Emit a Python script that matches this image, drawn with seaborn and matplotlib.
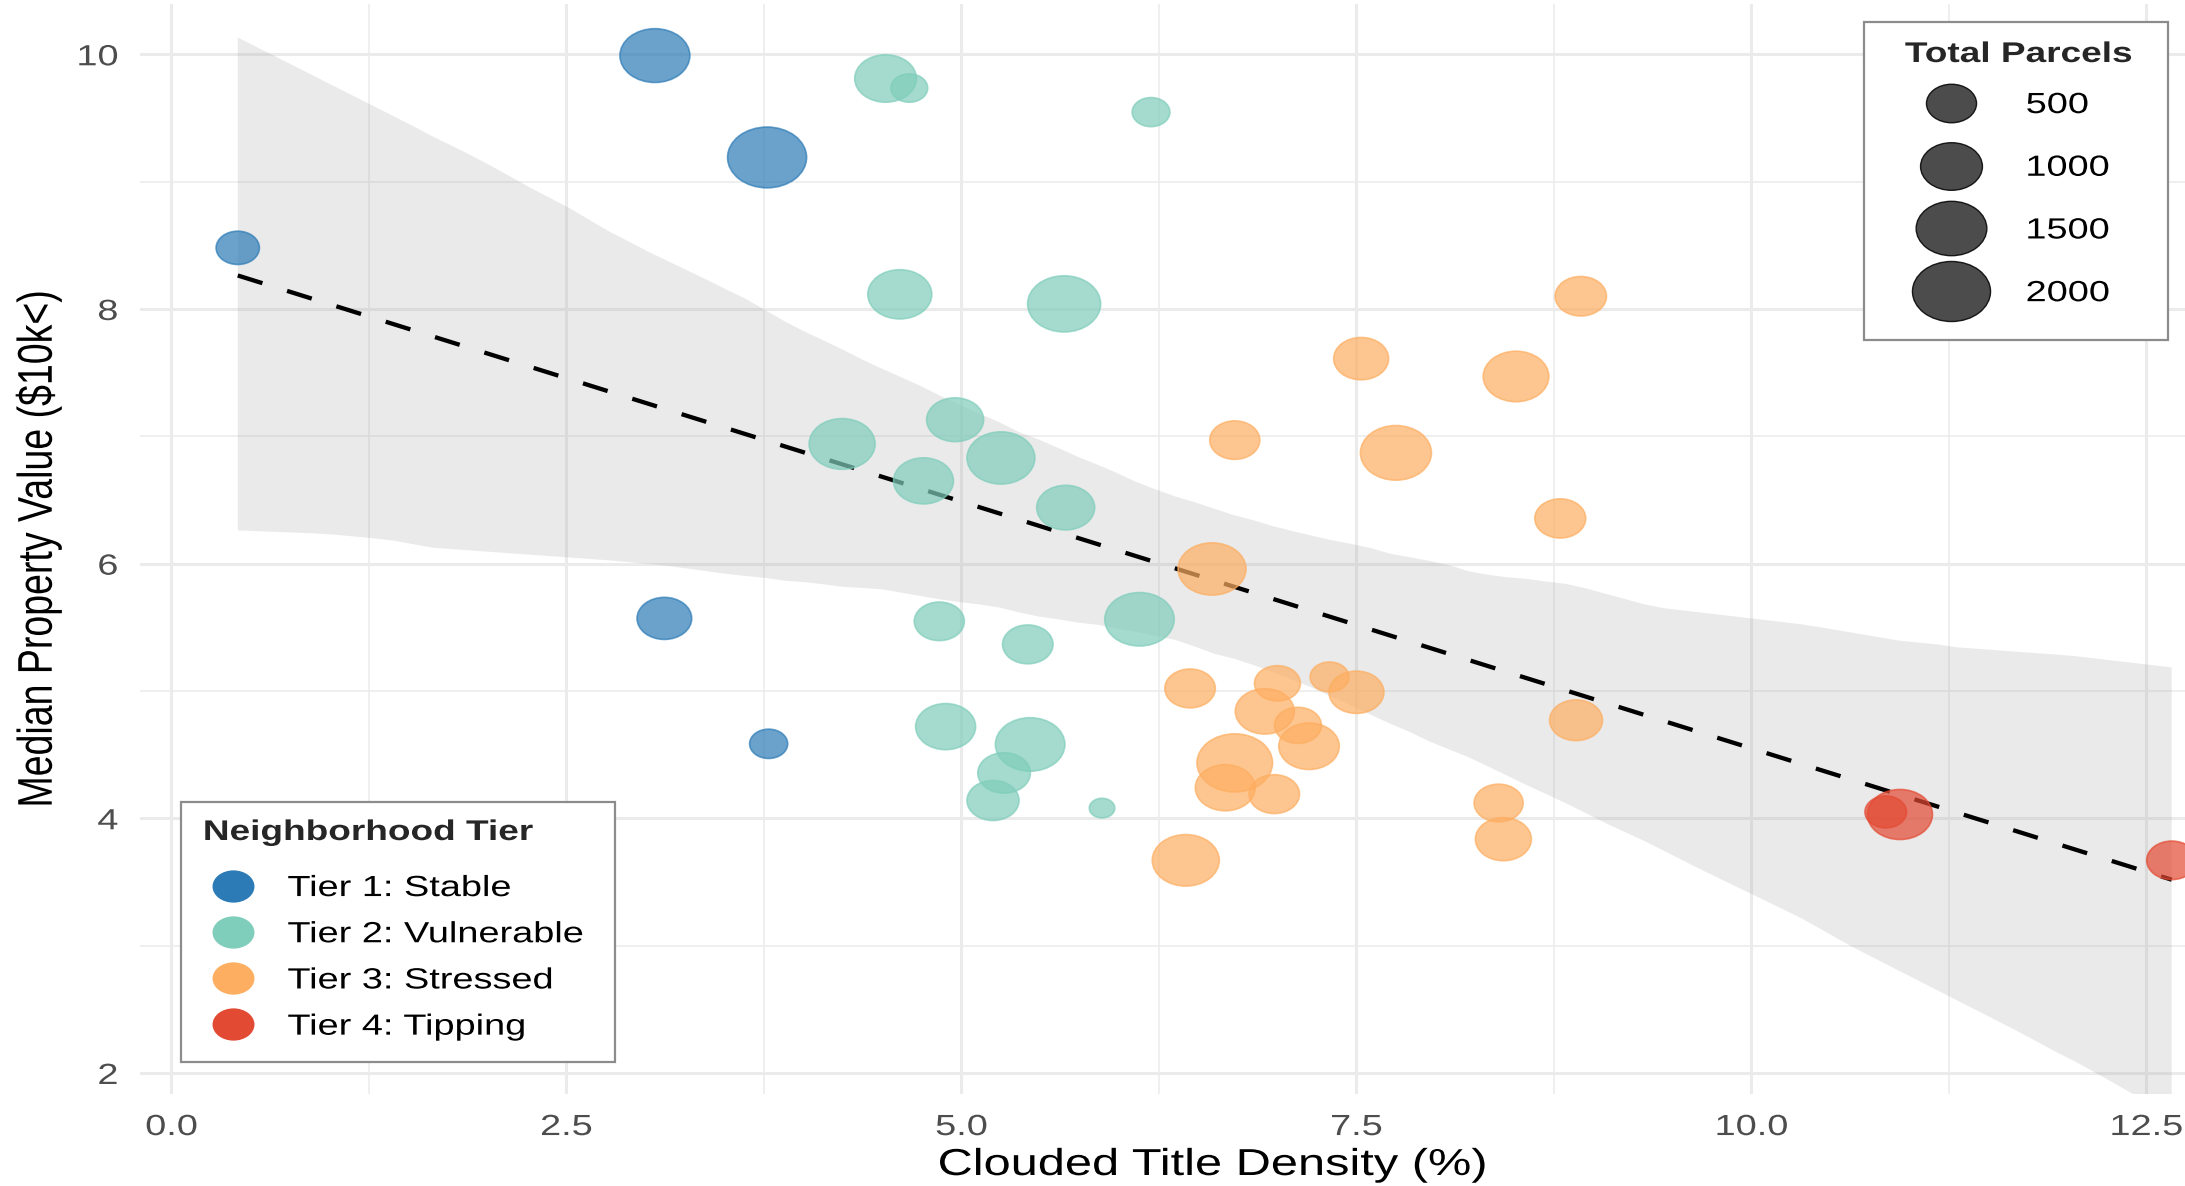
import numpy as np
import pandas as pd
import matplotlib
matplotlib.use("Agg")
import matplotlib.pyplot as plt
import seaborn as sns
from matplotlib.path import Path
from matplotlib.transforms import Affine2D
from matplotlib.patheffects import AbstractPathEffect
from matplotlib.lines import Line2D
from matplotlib.patches import Rectangle
from matplotlib.colors import FuncNorm
from matplotlib.font_manager import FontProperties

# ---------------- data ----------------
tier_names = ["Tier 1: Stable", "Tier 2: Vulnerable", "Tier 3: Stressed", "Tier 4: Tipping"]
tier_colors = ["#2c7bb6", "#7fcdbb", "#fdae61", "#e34a33"]

stable_density = [3.06, 3.77, 0.42, 3.12, 3.78]
stable_value = [9.99, 9.19, 8.48, 5.57, 4.585]
stable_parcels = [1450, 2070, 300, 670, 190]

vulnerable_density = [4.52, 4.67, 6.20, 4.61, 5.65, 4.96, 4.245, 5.25, 4.76, 5.66,
                      6.127, 5.42, 4.86, 5.89, 4.90, 5.435, 5.27, 5.20]
vulnerable_value = [9.81, 9.735, 9.546, 8.115, 8.04, 7.13, 6.94, 6.83, 6.65, 6.44,
                    5.563, 5.366, 5.547, 4.08, 4.72, 4.58, 4.356, 4.14]
vulnerable_parcels = [990, 170, 185, 1110, 1650, 770, 1220, 1330, 905, 815,
                      1425, 515, 500, 80, 905, 1425, 590, 570]

stressed_density = [8.92, 7.53, 8.51, 6.73, 7.75, 8.79, 6.586, 6.447, 7.00, 7.33, 7.50,
                    6.92, 7.13, 7.20, 8.89, 6.73, 6.67, 6.98, 8.40, 8.43, 6.42]
stressed_value = [8.10, 7.61, 7.47, 6.97, 6.87, 6.355, 5.958, 5.02, 5.06, 5.11, 4.99,
                  4.84, 4.73, 4.566, 4.77, 4.435, 4.24, 4.19, 4.12, 3.836, 3.67]
stressed_parcels = [545, 685, 1200, 500, 1520, 530, 1335, 515, 370, 205, 685,
                    860, 400, 930, 605, 1825, 905, 515, 465, 725, 1275]

tipping_density = [10.94, 10.85, 12.66]
tipping_value = [4.03, 4.05, 3.67]
tipping_parcels = [1165, 260, 500]

size_legend_values = [500, 1000, 1500, 2000]
x_ticks = [0.0, 2.5, 5.0, 7.5, 10.0, 12.5]
x_tick_labels = ["0.0", "2.5", "5.0", "7.5", "10.0", "12.5"]
y_ticks = [2, 4, 6, 8, 10]
y_tick_labels = ["2", "4", "6", "8", "10"]

x_title = "Clouded Title Density (%)"
y_title = "Median Property Value ($10k<)"
hue_title = "Neighborhood Tier"
size_title = "Total Parcels"

frames = []
for name, d, v, p in [
    (tier_names[0], stable_density, stable_value, stable_parcels),
    (tier_names[1], vulnerable_density, vulnerable_value, vulnerable_parcels),
    (tier_names[2], stressed_density, stressed_value, stressed_parcels),
    (tier_names[3], tipping_density, tipping_value, tipping_parcels),
]:
    frames.append(pd.DataFrame({"tier": name, "density": d, "value": v, "parcels": p}))
df = pd.concat(frames, ignore_index=True)

# ---------------- style helpers ----------------
W, H, DPI = 2185, 1186, 100
STRETCH = 1.3


class HStretch(AbstractPathEffect):
    """Widen glyphs horizontally (the reference image is horizontally stretched)."""

    def __init__(self, sx=STRETCH, anchor="center"):
        super().__init__()
        self.sx = sx
        self.anchor = anchor

    def draw_path(self, renderer, gc, tpath, affine, rgbFace=None):
        ext = tpath.get_extents(affine)
        if self.anchor == "left":
            cx = ext.x0
        elif self.anchor == "right":
            cx = ext.x1
        else:
            cx = 0.5 * (ext.x0 + ext.x1)
        aff = affine + Affine2D().translate(-cx, 0).scale(self.sx, 1.0).translate(cx, 0)
        renderer.draw_path(gc, tpath, aff, rgbFace)


ELLIPSE = Path.unit_circle().transformed(Affine2D().scale(1.0, 1.0 / STRETCH))

# size scale: marker width (px) = D_MIN + K*sqrt(v - V_MIN)
D_MIN, K_SZ = 25.5, 1.2
V_MIN, V_MAX = float(df["parcels"].min()), float(df["parcels"].max())


def _diam(v):
    v = np.asarray(v, dtype=float)
    return D_MIN + K_SZ * np.sqrt(np.clip(v - V_MIN, 0, None))


def _fwd(v):
    return _diam(v) ** 2


def _inv(a):
    a = np.asarray(a, dtype=float)
    return ((np.sqrt(a) - D_MIN) / K_SZ) ** 2 + V_MIN


PT = 72.0 / DPI
s_min = (PT * float(_diam(V_MIN))) ** 2
s_max = (PT * float(_diam(V_MAX))) ** 2
size_norm = FuncNorm((_fwd, _inv), vmin=V_MIN, vmax=V_MAX)

sns.set_theme(style="white")
plt.rcParams["font.family"] = ["Liberation Sans", "DejaVu Sans"]

fig = plt.figure(figsize=(W / DPI, H / DPI), dpi=DPI)
fig.patch.set_facecolor("white")
ax = fig.add_axes([140 / W, (H - 1093.6) / H, 2045 / W, (1093.6 - 4) / H])

# confidence band of the linear fit, then the dashed trend line
sns.regplot(data=df, x="density", y="value", scatter=False, ci=99,
            n_boot=2000, seed=3, truncate=True, color="0.6", ax=ax)
band = ax.collections[-1]
band.set_alpha(0.2)
band.set_edgecolor("none")
ax.lines[-1].remove()

sns.regplot(data=df, x="density", y="value", scatter=False, ci=None, truncate=True,
            color="black", line_kws=dict(lw=3.1, ls=(0, (6, 6)), zorder=2), ax=ax)

sns.scatterplot(data=df, x="density", y="value", hue="tier", hue_order=tier_names,
                palette=dict(zip(tier_names, tier_colors)), size="parcels",
                sizes=(s_min, s_max), size_norm=size_norm, marker=ELLIPSE,
                alpha=0.7, edgecolor="face", linewidth=1.2, legend=False,
                zorder=3, ax=ax)

# axes cosmetics
ax.set_xlim(-0.1987, 12.744)
ax.set_ylim(1.838, 10.395)
ax.set_xticks(x_ticks, x_tick_labels)
ax.set_yticks(y_ticks, y_tick_labels)
ax.set_xticks([1.25, 3.75, 6.25, 8.75, 11.25], minor=True)
ax.set_yticks([3, 5, 7, 9], minor=True)
ax.set_axisbelow(True)
ax.grid(which="major", color="#ebebeb", lw=2.2)
ax.grid(which="minor", color="#ebebeb", lw=1.1)
for sp in ax.spines.values():
    sp.set_visible(False)
ax.tick_params(which="both", length=0)
ax.tick_params(axis="x", pad=14, labelsize=21, labelcolor="#4d4d4d")
ax.tick_params(axis="y", pad=15.8, labelsize=21, labelcolor="#4d4d4d")
for t in ax.get_xticklabels():
    t.set_path_effects([HStretch(anchor="center")])
for t in ax.get_yticklabels():
    t.set_path_effects([HStretch(anchor="right")])

ax.set_xlabel(x_title, fontsize=27, color="black")
ax.set_ylabel(y_title, fontsize=27, color="black")
ax.xaxis.set_label_coords((1212.7 - 140) / 2045, -(1165 - 1093.6) / 1089.6)
ax.xaxis.label.set_va("center")
ax.yaxis.set_label_coords((38 - 140) / 2045, 0.5)
ax.yaxis.label.set_va("center")
ax.xaxis.label.set_path_effects([HStretch(anchor="center")])
ax.yaxis.label.set_path_effects([HStretch(anchor="center")])

# legend frames
for (x0, y0, x1, y1) in [(181, 801.5, 614.5, 1062), (1864, 21.7, 2168, 340)]:
    fig.add_artist(Rectangle((x0 / W, 1 - y1 / H), (x1 - x0) / W, (y1 - y0) / H,
                             transform=fig.transFigure, facecolor="white",
                             edgecolor="#8c8c8c", lw=1.6, zorder=1))

title_fp = FontProperties(family=["Liberation Sans", "DejaVu Sans"], weight="bold", size=20.5)
label_fp = FontProperties(family=["Liberation Sans", "DejaVu Sans"], size=21)

hue_handles = [Line2D([], [], ls="none", marker=ELLIPSE, markersize=30.2,
                      markerfacecolor=c, markeredgecolor=c, markeredgewidth=0)
               for c in tier_colors]
leg1 = fig.legend(hue_handles, tier_names, loc="upper left",
                  bbox_to_anchor=(203.4 / W, 1 - 820 / H), bbox_transform=fig.transFigure,
                  frameon=False, borderpad=0, borderaxespad=0, title=hue_title,
                  title_fontproperties=title_fp, prop=label_fp, alignment="left",
                  handlelength=2.03, handletextpad=0.857, labelspacing=0.624,
                  numpoints=1, handleheight=0.7)
leg1._legend_box.sep = 20.2

size_handles = []
for v in size_legend_values:
    s = s_min + float(size_norm(v)) * (s_max - s_min)
    size_handles.append(Line2D([], [], ls="none", marker=ELLIPSE, markersize=np.sqrt(s),
                               markerfacecolor=(0, 0, 0, 0.7),
                               markeredgecolor=(0, 0, 0, 0.85), markeredgewidth=1.0))
leg2 = fig.legend(size_handles, [str(v) for v in size_legend_values], loc="upper left",
                  bbox_to_anchor=(1905 / W, 1 - 42 / H), bbox_transform=fig.transFigure,
                  frameon=False, borderpad=0, borderaxespad=0, title=size_title,
                  title_fontproperties=title_fp, prop=label_fp, alignment="left",
                  handlelength=3.15, handletextpad=1.0, labelspacing=1.19,
                  numpoints=1, handleheight=0.7)
leg2._legend_box.sep = 16.6

for leg in (leg1, leg2):
    leg.set_zorder(5)
    leg.get_title().set_path_effects([HStretch(anchor="left")])
    for t in leg.get_texts():
        t.set_path_effects([HStretch(anchor="left")])
        t.set_color("black")

fig.savefig("out.png", dpi=DPI)
